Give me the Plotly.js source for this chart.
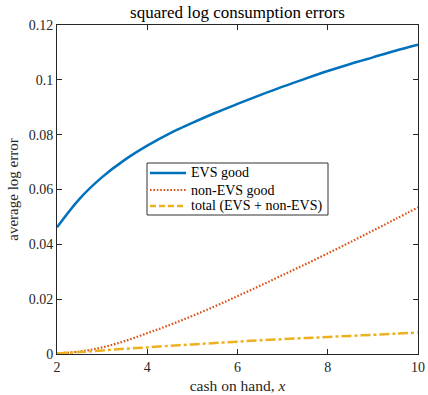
<!DOCTYPE html>
<html>
<head>
<meta charset="utf-8">
<script src="https://cdn.plot.ly/plotly-3.0.1.min.js"></script>
<style>
  html, body { margin: 0; padding: 0; background: #fff; }
  #chart { width: 428px; height: 395px; }
</style>
</head>
<body>
<div id="chart"></div>
<script>
// cash on hand grid
const cashOnHand = [2, 2.5, 3, 3.5, 4, 4.5, 5, 5.5, 6, 6.5, 7, 7.5, 8, 8.5, 9, 9.5, 10];

// average squared log consumption errors
const evsGood    = [0.0462, 0.0566, 0.0645, 0.0708, 0.0760, 0.0805, 0.0843, 0.0879, 0.0912, 0.0944, 0.0975, 0.1004, 0.1032, 0.1058, 0.1082, 0.1106, 0.1128];
const nonEvsGood = [0.0002, 0.0009, 0.0024, 0.0047, 0.0076, 0.0106, 0.0139, 0.0174, 0.0211, 0.0249, 0.0288, 0.0327, 0.0367, 0.0408, 0.0450, 0.0492, 0.0535];
const totalErr   = [0.0002, 0.0007, 0.0013, 0.0019, 0.0024, 0.0030, 0.0035, 0.0040, 0.0045, 0.0050, 0.0054, 0.0058, 0.0062, 0.0066, 0.0070, 0.0074, 0.0078];

const seriesNames = ['EVS good', 'non-EVS good', 'total (EVS + non-EVS)'];
const xTicks = [2, 4, 6, 8, 10];
const yTicks = [0, 0.02, 0.04, 0.06, 0.08, 0.1, 0.12];
const yTickText = ['0', '0.02', '0.04', '0.06', '0.08', '0.1', '0.12'];

const FONT = '"Liberation Serif", "DejaVu Serif", serif';
const INK = '#262626';

const W = 428, H = 395;
const M = { l: 57, r: 10, t: 25, b: 41 };

const styles = [
  { color: '#0072BD', width: 2.5, dash: 'solid' },
  { color: '#D95319', width: 2.2, dash: '1.6px,1.8px' },
  { color: '#EDB120', width: 2.5, dash: '10px,3px,3px,3px' }
];
const series = [evsGood, nonEvsGood, totalErr];

const traces = series.map((ys, i) => ({
  x: cashOnHand, y: ys, name: seriesNames[i], mode: 'lines',
  line: { color: styles[i].color, width: styles[i].width, dash: styles[i].dash, shape: 'spline', smoothing: 1 }
}));

// pixel -> paper helpers for the legend box
const px = v => (v - M.l) / (W - M.l - M.r);
const py = v => (H - M.b - v) / (H - M.t - M.b);

// legend drawn as a boxed key
const legendBox = { x0: 147, x1: 328, y0: 163, y1: 215 };
const rowY = [173, 190, 206];
const shapes = [{
  type: 'rect', xref: 'paper', yref: 'paper',
  x0: px(legendBox.x0), x1: px(legendBox.x1), y0: py(legendBox.y1), y1: py(legendBox.y0),
  fillcolor: '#ffffff', line: { color: '#333333', width: 1 }, layer: 'above'
}];
const annotations = [];
seriesNames.forEach((name, i) => {
  shapes.push({
    type: 'line', xref: 'paper', yref: 'paper',
    x0: px(150), x1: px(186), y0: py(rowY[i]), y1: py(rowY[i]),
    line: { color: styles[i].color, width: styles[i].width, dash: i === 2 ? '6px,3px' : styles[i].dash },
    layer: 'above'
  });
  annotations.push({
    xref: 'paper', yref: 'paper', x: px(189), y: py(rowY[i]),
    xanchor: 'left', yanchor: 'middle', showarrow: false,
    text: name, font: { family: FONT, size: 14, color: '#000' }
  });
});

const axisCommon = {
  showgrid: false, zeroline: false,
  showline: true, linecolor: INK, linewidth: 1, mirror: 'ticks',
  ticks: 'inside', ticklen: 5, tickwidth: 1, tickcolor: INK,
  tickfont: { family: FONT, size: 14, color: INK }
};

const layout = {
  width: W, height: H,
  paper_bgcolor: '#ffffff', plot_bgcolor: '#ffffff',
  margin: M,
  showlegend: false,
  title: { text: 'squared log consumption errors', font: { family: FONT, size: 17, color: '#000' },
           x: 0.5, xref: 'paper', y: 0.97, yref: 'container', yanchor: 'middle' },
  xaxis: Object.assign({}, axisCommon, {
    range: [2, 10], tickvals: xTicks, ticktext: xTicks.map(String),
    title: { text: 'cash on hand, <i>x</i>', font: { family: FONT, size: 15.5, color: INK }, standoff: 6 }
  }),
  yaxis: Object.assign({}, axisCommon, {
    range: [0, 0.12], tickvals: yTicks, ticktext: yTickText,
    title: { text: 'average log error', font: { family: FONT, size: 15, color: INK }, standoff: 6 }
  }),
  shapes: shapes,
  annotations: annotations
};

Plotly.newPlot('chart', traces, layout, { displayModeBar: false, staticPlot: true });
</script>
</body>
</html>
